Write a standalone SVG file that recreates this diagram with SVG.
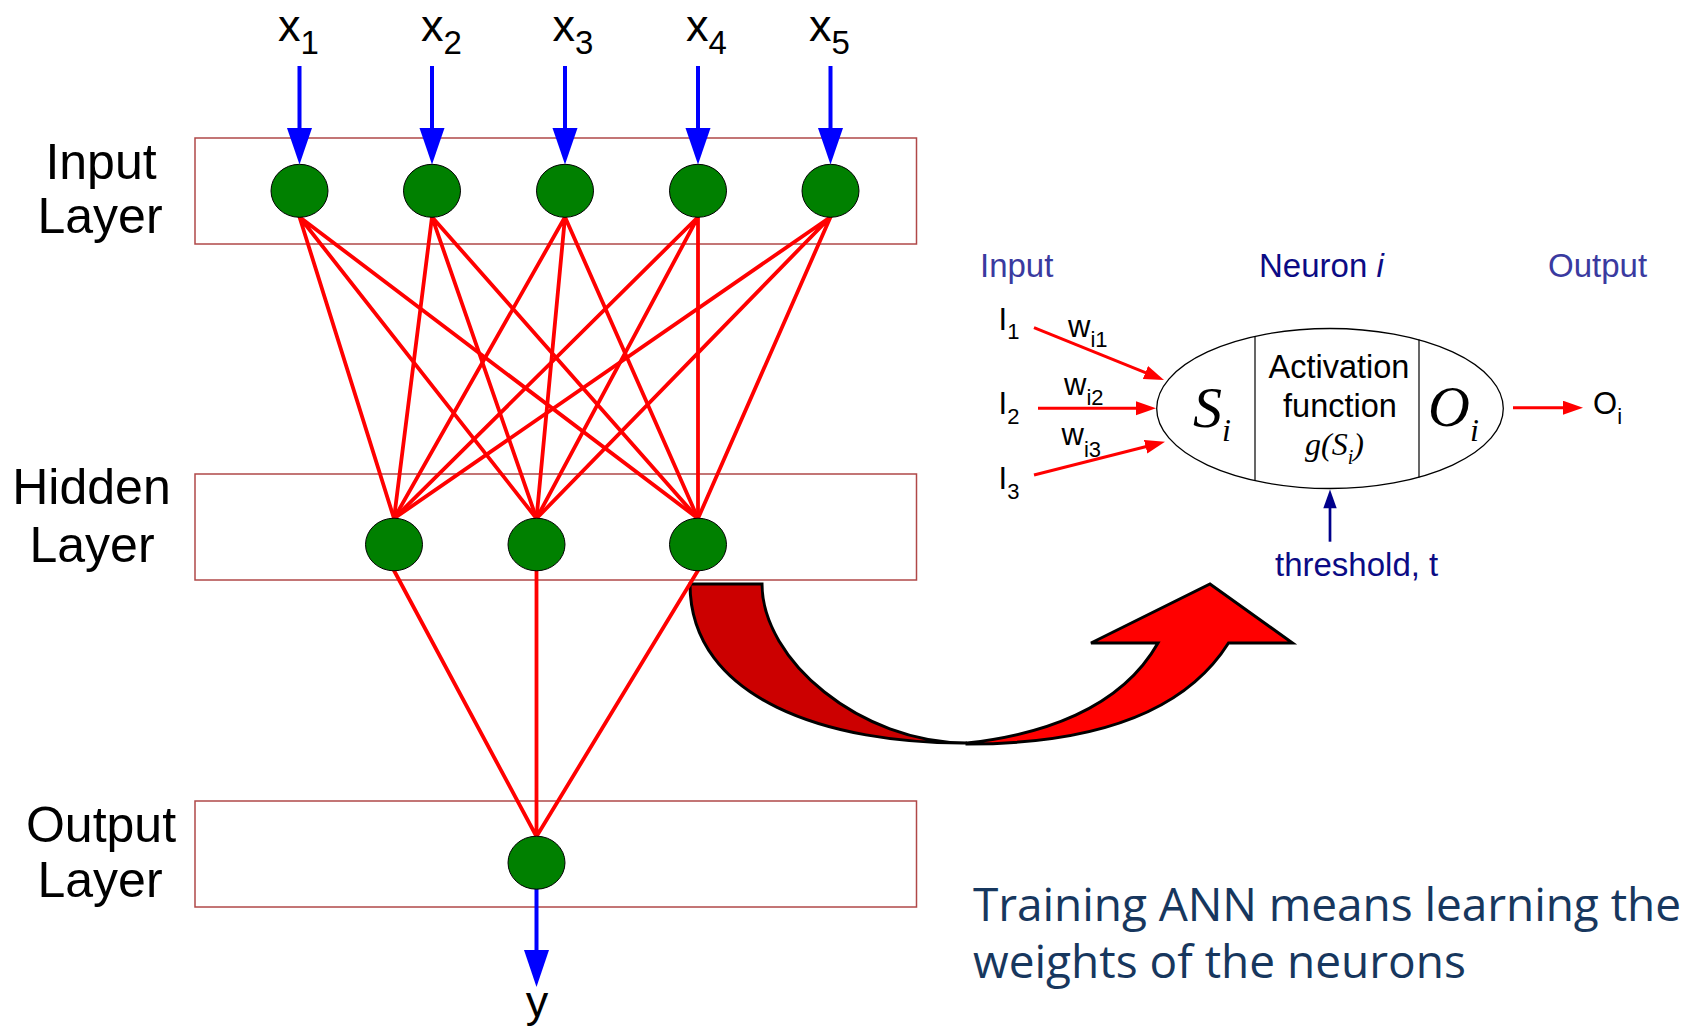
<svg xmlns="http://www.w3.org/2000/svg" width="1700" height="1026" viewBox="0 0 1700 1026">
<defs>
<style>
.layer{fill:#ffffff;stroke:#b04848;stroke-width:1.5}
.node{fill:#008000;stroke:#000000;stroke-width:1}
.w{stroke:#ff0000;stroke-width:3.8;fill:none;stroke-linecap:round}
.blue{stroke:#0000ff;stroke-width:4;fill:none}
.bhead{fill:#0000ff}
.lbl{font-family:"Liberation Sans",Arial,sans-serif;font-size:50px;fill:#000000;text-anchor:middle}
.xl{font-family:"Liberation Sans",Arial,sans-serif;font-size:45px;fill:#000000}
.xs{font-size:33px}
.sans{font-family:"Liberation Sans",Arial,sans-serif;fill:#000000}
.hdr{font-family:"Liberation Sans",Arial,sans-serif;font-size:33px}
.serif{font-family:"Liberation Serif","Times New Roman",serif;font-style:italic;fill:#000000}
.nw{stroke:#ff0000;stroke-width:3;fill:none}
.bot{font-family:"Open Sans","Noto Sans",sans-serif;font-size:46px;fill:#17375e}
.big{fill:#cc0000;stroke:#000000;stroke-width:3;stroke-linejoin:miter}
.big2{fill:#ff0000;stroke:#000000;stroke-width:3;stroke-linejoin:miter}
</style>
<marker id="ra" markerUnits="userSpaceOnUse" markerWidth="22" markerHeight="16" refX="10" refY="7" orient="auto"><path d="M0,0 L20,7 L0,14 z" fill="#ff0000"/></marker>
</defs>
<rect x="0" y="0" width="1700" height="1026" fill="#ffffff"/>

<g id="layers">
<rect class="layer" x="195" y="138" width="721.5" height="106"/>
<rect class="layer" x="195" y="474" width="721.5" height="106"/>
<rect class="layer" x="195" y="801" width="721.5" height="106"/>
</g>

<g id="big-arrow">
<path class="big" d="M690,584 L762,584 C762,660 860,743 967,743 C830,744 690,700 690,584 Z"/>
<path class="big2" d="M967,743 C1040,735 1120,710 1158,643 L1091,643 L1210,584 L1292.5,643 L1228.5,643 C1180,720 1080,744 967,744 Z"/>
</g>

<g id="connectors">
<g class="w">
<path d="M299.5,217 L394,518.5 M299.5,217 L536.5,518.5 M299.5,217 L698,518.5"/>
<path d="M432,217 L394,518.5 M432,217 L536.5,518.5 M432,217 L698,518.5"/>
<path d="M565,217 L394,518.5 M565,217 L536.5,518.5 M565,217 L698,518.5"/>
<path d="M698,217 L394,518.5 M698,217 L536.5,518.5 M698,217 L698,518.5"/>
<path d="M830.5,217 L394,518.5 M830.5,217 L536.5,518.5 M830.5,217 L698,518.5"/>
<path d="M394,570.5 L536.5,836.5 M536.5,570.5 L536.5,836.5 M698,570.5 L536.5,836.5"/>
</g>
<g class="blue">
<path d="M299.5,66 V129 M432,66 V129 M565,66 V129 M698,66 V129 M830.5,66 V129"/>
<path d="M536.5,889 V952"/>
</g>
<g class="bhead">
<polygon points="287,128 312,128 299.5,164.5"/>
<polygon points="419.5,128 444.5,128 432,164.5"/>
<polygon points="552.5,128 577.5,128 565,164.5"/>
<polygon points="685.5,128 710.5,128 698,164.5"/>
<polygon points="818,128 843,128 830.5,164.5"/>
<polygon points="524,950 549,950 536.5,987"/>
</g>
</g>

<g id="input-nodes">
<ellipse id="in1" class="node" cx="299.5" cy="190.8" rx="28.5" ry="26.5"/>
<ellipse id="in2" class="node" cx="432" cy="190.8" rx="28.5" ry="26.5"/>
<ellipse id="in3" class="node" cx="565" cy="190.8" rx="28.5" ry="26.5"/>
<ellipse id="in4" class="node" cx="698" cy="190.8" rx="28.5" ry="26.5"/>
<ellipse id="in5" class="node" cx="830.5" cy="190.8" rx="28.5" ry="26.5"/>
</g>
<g id="hidden-nodes">
<ellipse id="h1" class="node" cx="394" cy="544.5" rx="28.5" ry="26.3"/>
<ellipse id="h2" class="node" cx="536.5" cy="544.5" rx="28.5" ry="26.3"/>
<ellipse id="h3" class="node" cx="698" cy="544.5" rx="28.5" ry="26.3"/>
</g>
<g id="output-node">
<ellipse id="o1" class="node" cx="536.5" cy="862.7" rx="28.5" ry="26.5"/>
</g>

<g id="labels">
<text class="lbl" x="101" y="179">Input</text>
<text class="lbl" x="100" y="233">Layer</text>
<text class="lbl" x="91.5" y="504">Hidden</text>
<text class="lbl" x="92" y="562">Layer</text>
<text class="lbl" x="101" y="841.5">Output</text>
<text class="lbl" x="100" y="896.5">Layer</text>
<text class="xl" x="278" y="41">x<tspan class="xs" dy="13">1</tspan></text>
<text class="xl" x="421" y="41">x<tspan class="xs" dy="13">2</tspan></text>
<text class="xl" x="552.5" y="41">x<tspan class="xs" dy="13">3</tspan></text>
<text class="xl" x="686" y="41">x<tspan class="xs" dy="13">4</tspan></text>
<text class="xl" x="809" y="41">x<tspan class="xs" dy="13">5</tspan></text>
<text class="xl" x="537" y="1017" text-anchor="middle" font-size="46px">y</text>
</g>

<g id="neuron">
<text class="hdr" x="980" y="276.5" fill="#3a3aa0">Input</text>
<text class="hdr" x="1259" y="276.5" fill="#0b0b85">Neuron <tspan font-style="italic">i</tspan></text>
<text class="hdr" x="1548" y="276.5" fill="#3a3aa0">Output</text>

<g id="neuron-body">
<ellipse cx="1330" cy="408.5" rx="173.3" ry="80" fill="#ffffff" stroke="#000000" stroke-width="1.3"/>
<line x1="1255" y1="336" x2="1255" y2="481" stroke="#000000" stroke-width="1.2"/>
<line x1="1419" y1="339.5" x2="1419" y2="477.5" stroke="#000000" stroke-width="1.2"/>
<text class="serif" x="1193" y="427" font-size="58px">S<tspan x="1222" dy="14" font-size="32px">i</tspan></text>
<text class="sans" font-size="32.5px" text-anchor="middle"><tspan x="1339" y="378">Activation</tspan><tspan x="1340" y="416.5">function</tspan></text>
<text class="serif" x="1305" y="455" font-size="32px">g(S<tspan font-size="20px" dy="9">i</tspan><tspan dy="-9">)</tspan></text>
<text class="serif" x="1428" y="426" font-size="58px">O<tspan x="1470" dy="15" font-size="32px">i</tspan></text>
</g>

<g id="neuron-inputs">
<text class="sans" x="998.5" y="330" font-size="31px">I<tspan font-size="22px" dy="9">1</tspan></text>
<text class="sans" x="998.5" y="414" font-size="31px">I<tspan font-size="22px" dy="10">2</tspan></text>
<text class="sans" x="998.5" y="489" font-size="31px">I<tspan font-size="22px" dy="10">3</tspan></text>
<text class="sans" x="1068" y="336.7" font-size="31px">w<tspan font-size="22px" dy="10.6">i1</tspan></text>
<text class="sans" x="1064" y="395" font-size="31px">w<tspan font-size="22px" dy="10">i2</tspan></text>
<text class="sans" x="1061.5" y="445" font-size="31px">w<tspan font-size="22px" dy="11.5">i3</tspan></text>
</g>
<g id="neuron-arrows">
<line class="nw" x1="1034" y1="327.7" x2="1154.7" y2="376.3" marker-end="url(#ra)"/>
<line class="nw" x1="1038" y1="408.3" x2="1146" y2="408.3" marker-end="url(#ra)"/>
<line class="nw" x1="1034" y1="475" x2="1155.3" y2="444.2" marker-end="url(#ra)"/>
<line class="nw" x1="1513" y1="407.7" x2="1573" y2="407.7" marker-end="url(#ra)"/>
<line x1="1330" y1="541.7" x2="1330" y2="507" stroke="#00008b" stroke-width="2.7"/>
<polygon points="1323.3,508.3 1336.7,508.3 1330,489.5" fill="#00008b"/>
</g>
<text class="sans" x="1593" y="414" font-size="31px">O<tspan font-size="22px" dy="10">i</tspan></text>
<text class="hdr" x="1275" y="576" fill="#0b0b85">threshold, t</text>
</g>

<g id="caption">
<text class="bot" x="973" y="921" textLength="708" lengthAdjust="spacing">Training ANN means learning the</text>
<text class="bot" x="973" y="977.5">weights of the neurons</text>
</g>
</svg>
